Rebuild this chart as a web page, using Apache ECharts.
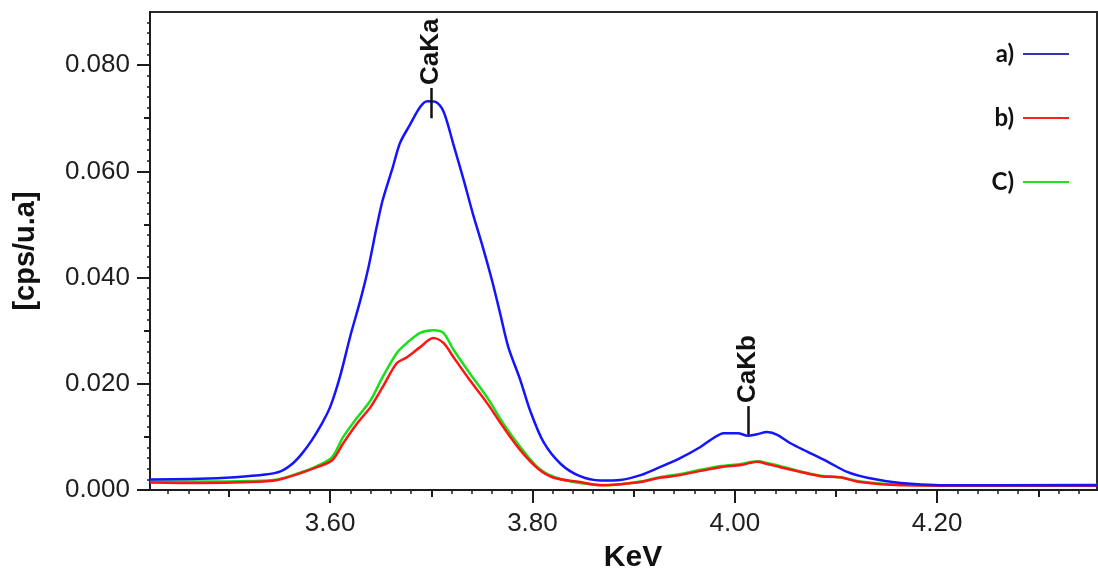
<!DOCTYPE html>
<html>
<head>
<meta charset="utf-8">
<script src="https://cdn.jsdelivr.net/npm/echarts@6/dist/echarts.min.js"></script>
<style>
  html, body { margin: 0; padding: 0; background: #fff; }
  #chart { width: 1098px; height: 575px; }
</style>
</head>
<body>
<div id="chart"></div>
<script>
// Spectrum a) : energy (keV) and intensity
const keVA = [3.422, 3.471, 3.506, 3.536, 3.551, 3.563, 3.572, 3.582, 3.591, 3.600,
              3.610, 3.620, 3.630, 3.638, 3.646, 3.652, 3.662, 3.669, 3.679, 3.689,
              3.696, 3.704, 3.712, 3.722, 3.732, 3.741, 3.751, 3.760, 3.768, 3.776,
              3.788, 3.798, 3.811, 3.828, 3.847, 3.867, 3.887, 3.907, 3.926, 3.946,
              3.966, 3.979, 3.989, 4.003, 4.013, 4.022, 4.032, 4.042, 4.055, 4.072,
              4.092, 4.111, 4.131, 4.164, 4.203, 4.263, 4.358];
const cpsA = [0.0020, 0.0021, 0.0024, 0.0029, 0.0035, 0.0050, 0.0068, 0.0094, 0.0122, 0.0156,
              0.0215, 0.0290, 0.0358, 0.0420, 0.0495, 0.0546, 0.0608, 0.0653, 0.0688, 0.0721,
              0.0732, 0.0731, 0.0713, 0.0650, 0.0584, 0.0521, 0.0457, 0.0395, 0.0333, 0.0270,
              0.0207, 0.0148, 0.0090, 0.0049, 0.0026, 0.0018, 0.0019, 0.0028, 0.0043, 0.0060,
              0.0081, 0.0098, 0.0107, 0.0107, 0.0102, 0.0105, 0.0109, 0.0104, 0.0088, 0.0072,
              0.0053, 0.0034, 0.0023, 0.0013, 0.0009, 0.0009, 0.0009];

// Spectrum b)
const keVB = [3.422, 3.471, 3.521, 3.548, 3.568, 3.587, 3.602, 3.613, 3.627, 3.640,
              3.652, 3.666, 3.676, 3.689, 3.702, 3.712, 3.722, 3.738, 3.755, 3.771,
              3.788, 3.805, 3.821, 3.847, 3.867, 3.887, 3.907, 3.926, 3.946, 3.966,
              3.986, 4.006, 4.022, 4.032, 4.045, 4.065, 4.085, 4.104, 4.124, 4.164,
              4.263, 4.358];
const cpsB = [0.0014, 0.0013, 0.0015, 0.0019, 0.0030, 0.0043, 0.0056, 0.0088, 0.0126, 0.0156,
              0.0194, 0.0239, 0.0250, 0.0269, 0.0286, 0.0277, 0.0250, 0.0207, 0.0164, 0.0119,
              0.0075, 0.0041, 0.0023, 0.0015, 0.0009, 0.0011, 0.0015, 0.0023, 0.0028, 0.0036,
              0.0043, 0.0047, 0.0053, 0.0049, 0.0043, 0.0034, 0.0026, 0.0024, 0.0015, 0.0009,
              0.0008, 0.0008];

// Spectrum C)
const keVC = [3.422, 3.471, 3.521, 3.548, 3.568, 3.587, 3.602, 3.613, 3.627, 3.640,
              3.652, 3.666, 3.676, 3.689, 3.702, 3.712, 3.722, 3.738, 3.755, 3.771,
              3.788, 3.805, 3.821, 3.847, 3.873, 3.887, 3.907, 3.926, 3.946, 3.966,
              3.986, 4.006, 4.022, 4.032, 4.045, 4.065, 4.085, 4.104, 4.124, 4.164,
              4.263, 4.358];
const cpsC = [0.0016, 0.0016, 0.0017, 0.0020, 0.0031, 0.0045, 0.0062, 0.0100, 0.0137, 0.0169,
              0.0213, 0.0258, 0.0277, 0.0296, 0.0301, 0.0296, 0.0264, 0.0220, 0.0175, 0.0126,
              0.0081, 0.0043, 0.0025, 0.0013, 0.0009, 0.0011, 0.0016, 0.0024, 0.0030, 0.0038,
              0.0045, 0.0049, 0.0054, 0.0051, 0.0045, 0.0035, 0.0027, 0.0024, 0.0016, 0.0010,
              0.0009, 0.0010];

const seriesNames = ['a)', 'b)', 'C)'];

// Axis ranges and ticks
const xRange = [3.422, 4.358];
const yRange = [0, 0.09];
const xMajorTicks = [3.60, 3.80, 4.00, 4.20];
const xMidTicks = [3.50, 3.70, 3.90, 4.10, 4.30];
const yMajorTicks = [0.000, 0.020, 0.040, 0.060, 0.080];
const yMidTicks = [0.010, 0.030, 0.050, 0.070];

// Emission line markers: position and vertical extent of the marker stroke
const peakLabels = ['CaKa', 'CaKb'];
const peakKeV = [3.700, 4.013];
const peakLineTop = [0.0757, 0.0158];
const peakLineBottom = [0.0700, 0.0104];

const xMinorTicks = [];
for (let i = 0; i <= 45; i++) xMinorTicks.push(+(3.44 + i * 0.02).toFixed(2));
const yMinorTicks = [];
for (let i = 1; i < 45; i++) yMinorTicks.push(+(i * 0.002).toFixed(3));

const zip = (xs, ys) => xs.map((x, i) => [x, ys[i]]);

const ink = '#1c1c1c';
const tickFont = { fontFamily: '"Liberation Sans", Arial, sans-serif', fontSize: 26, color: '#1e1e1e' };

function tickOnlyAxis(values, len, width, pos, range) {
  return {
    type: 'value', min: range[0], max: range[1], position: pos,
    axisLine: { show: false },
    axisTick: { show: true, customValues: values, length: len, lineStyle: { color: ink, width: width } },
    axisLabel: { show: false },
    splitLine: { show: false }
  };
}

const chart = echarts.init(document.getElementById('chart'));

const option = {
  animation: false,
  backgroundColor: '#ffffff',
  grid: { left: 150, right: 1, top: 12, bottom: 85, show: true, borderColor: '#2a2a2a', borderWidth: 2 },
  legend: {
    orient: 'vertical', right: 24, top: 37, align: 'right',
    itemGap: 40, itemWidth: 46, itemHeight: 2, icon: 'rect',
    textStyle: { fontFamily: 'Lato, sans-serif', fontWeight: 'bold', fontSize: 24, color: '#111', padding: [0, 4, 0, 0] },
    data: [
      { name: seriesNames[0], itemStyle: { color: '#3434b8' } },
      { name: seriesNames[1], itemStyle: { color: '#ff2020' } },
      { name: seriesNames[2], itemStyle: { color: '#22e022' } }
    ]
  },
  xAxis: [
    {
      type: 'value', min: xRange[0], max: xRange[1], position: 'bottom',
      axisLine: { show: true, onZero: false, lineStyle: { color: ink, width: 2 } },
      axisTick: { show: true, customValues: xMajorTicks, length: 13, lineStyle: { color: ink, width: 2 } },
      axisLabel: { show: true, customValues: xMajorTicks, formatter: v => v.toFixed(2), margin: 21, ...tickFont },
      splitLine: { show: false }
    },
    tickOnlyAxis(xMidTicks, 7, 2, 'bottom', xRange),
    tickOnlyAxis(xMinorTicks, 4, 1.5, 'bottom', xRange)
  ],
  yAxis: [
    {
      type: 'value', min: yRange[0], max: yRange[1], position: 'left',
      axisLine: { show: true, onZero: false, lineStyle: { color: ink, width: 2 } },
      axisTick: { show: true, customValues: yMajorTicks, length: 13, lineStyle: { color: ink, width: 2 } },
      axisLabel: { show: true, customValues: yMajorTicks, formatter: v => v.toFixed(3), margin: 20, ...tickFont },
      splitLine: { show: false }
    },
    tickOnlyAxis(yMidTicks, 6, 2, 'left', yRange),
    tickOnlyAxis(yMinorTicks, 3, 1.5, 'left', yRange)
  ],
  series: [
    {
      name: seriesNames[2], type: 'line', data: zip(keVC, cpsC),
      showSymbol: false, smooth: 0.3, z: 2,
      lineStyle: { color: '#18e018', width: 2.5 }, itemStyle: { color: '#18e018' }
    },
    {
      name: seriesNames[1], type: 'line', data: zip(keVB, cpsB),
      showSymbol: false, smooth: 0.3, z: 3,
      lineStyle: { color: '#ff1414', width: 2.5 }, itemStyle: { color: '#ff1414' }
    },
    {
      name: seriesNames[0], type: 'line', data: zip(keVA, cpsA),
      showSymbol: false, smooth: 0.3, z: 4,
      lineStyle: { color: '#1414ff', width: 2.5 }, itemStyle: { color: '#1414ff' },
      markLine: {
        silent: true, symbol: 'none', animation: false,
        label: { show: false },
        lineStyle: { color: '#111', width: 2.5, type: 'solid' },
        data: peakKeV.map((k, i) => [{ coord: [k, peakLineTop[i]] }, { coord: [k, peakLineBottom[i]] }])
      }
    }
  ],
  graphic: [
    {
      type: 'text', x: 26, y: 251, rotation: Math.PI / 2,
      style: { text: '[cps/u.a]', fontFamily: '"Liberation Sans", Arial, sans-serif', fontWeight: 'bold',
               fontSize: 29, fill: '#111', align: 'center', verticalAlign: 'middle' }
    },
    {
      type: 'text', x: 633, y: 558,
      style: { text: 'KeV', fontFamily: '"Liberation Sans", Arial, sans-serif', fontWeight: 'bold',
               fontSize: 30, fill: '#111', align: 'center', verticalAlign: 'middle' }
    }
  ]
};

chart.setOption(option);

// Peak names, written upward from the top of each marker stroke
const peakText = peakLabels.map((label, i) => {
  const p = chart.convertToPixel({ gridIndex: 0 }, [peakKeV[i], peakLineTop[i]]);
  return {
    type: 'text', x: p[0], y: p[1] - 3, rotation: Math.PI / 2,
    style: { text: label, fontFamily: '"Liberation Sans", Arial, sans-serif', fontWeight: 'bold',
             fontSize: 26, fill: '#111', align: 'left', verticalAlign: 'middle' }
  };
});
chart.setOption({ graphic: option.graphic.concat(peakText) });
</script>
</body>
</html>
